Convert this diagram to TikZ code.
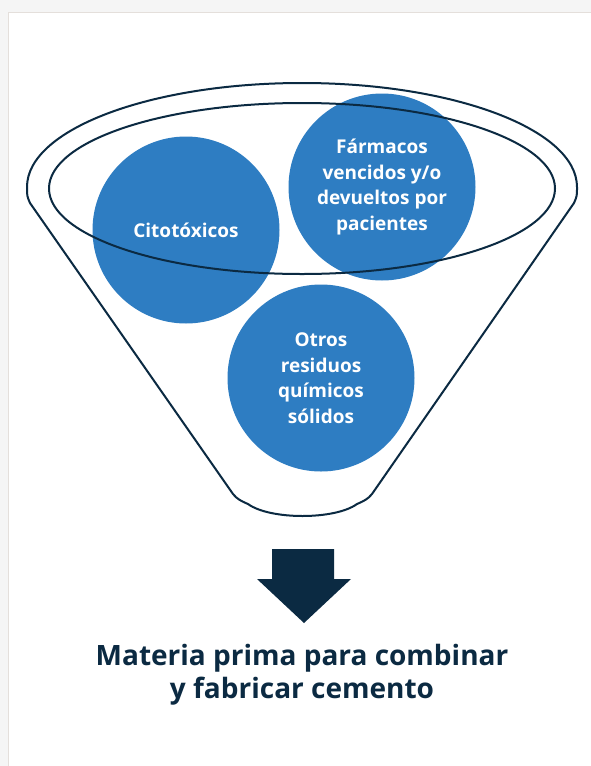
\documentclass[tikz,border=0pt]{standalone}
\usepackage{fontspec}
\setmainfont{Open Sans}
\definecolor{navy}{HTML}{0B2A42}
\definecolor{bubblue}{HTML}{2E7DC2}
\definecolor{pagegray}{HTML}{F5F5F5}
\definecolor{panelline}{HTML}{E4DFDB}
\tikzset{
  bubble/.style={circle, fill=bubblue, minimum size=187pt, inner sep=0pt, text=white, align=center, font=\fontsize{19}{25.5}\selectfont\bfseries},
  funnel/.style={draw=navy, line width=2pt, line join=round},
  title/.style={text=navy, align=center, font=\fontsize{28}{33}\selectfont\bfseries}
}
\begin{document}
\begin{tikzpicture}[x=1pt,y=-1pt]
\useasboundingbox (0,0) rectangle (591,766);
\fill[pagegray] (0,0) rectangle (591,766);
\fill[white] (8.5,12.5) rectangle (591,766);
\draw[panelline, line width=1.5pt] (591,12.5) -- (8.5,12.5) -- (8.5,766);
% bubbles
\node[bubble] (cito) at (186,230) {Citotóxicos};
\node[bubble] (farm) at (382,187) {Fármacos\\vencidos y/o\\devueltos por\\pacientes};
\node[bubble] (otros) at (321,378) {Otros\\residuos\\químicos\\sólidos};
% funnel
\draw[funnel] (30,203) .. controls (27,196) .. (27,187)
  arc[start angle=180, end angle=360, x radius=275, y radius=104]
  .. controls (577,196) .. (574,203)
  -- (372,494)
  .. controls (368,499) and (364,501) .. (357,504)
  .. controls (335,520) and (270,520) .. (248,504)
  .. controls (241,501) and (237,499) .. (233,494)
  -- cycle;
\draw[funnel] (302,188.5) ellipse[x radius=253, y radius=85.5];
% arrow
\fill[navy] (272,549) -- (334,549) -- (334,579) -- (351,579) -- (304,623) -- (257,579) -- (272,579) -- cycle;
\node[title] (result) at (302,675) {Materia prima para combinar\\y fabricar cemento};
\end{tikzpicture}
\end{document}
